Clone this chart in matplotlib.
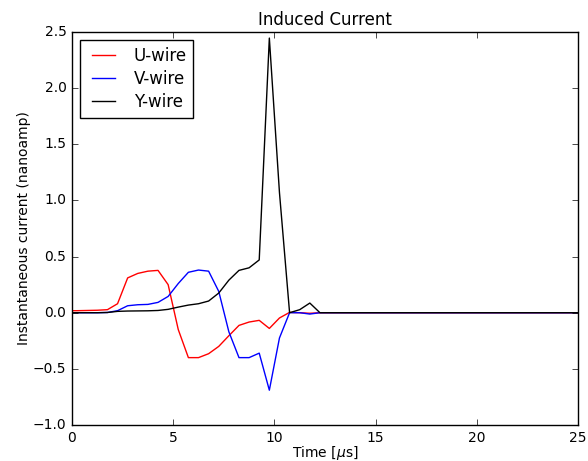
"""Induced current on the three wire planes."""

import matplotlib

matplotlib.use("Agg")
from matplotlib import pyplot as plt

# sample times in microseconds (signal is flat zero after 12.25 us)
times = [0.0, 0.25, 0.75, 1.25, 1.75, 2.25, 2.75, 3.25, 3.75, 4.25, 4.75,
         5.25, 5.75, 6.25, 6.75, 7.25, 7.75, 8.25, 8.75, 9.25, 9.75,
         10.25, 10.75, 11.25, 11.75, 12.25, 25.0]

u_wire = [0.018, 0.018, 0.02, 0.022, 0.027, 0.08, 0.31, 0.35, 0.37, 0.377, 0.25,
          -0.15, -0.40, -0.40, -0.365, -0.30, -0.205, -0.113, -0.083, -0.068, -0.14,
          -0.047, 0.003, 0.0, -0.005, 0.0, 0.0]

v_wire = [0.0, 0.0, 0.0, 0.0, 0.002, 0.018, 0.062, 0.071, 0.074, 0.092, 0.145,
          0.26, 0.36, 0.38, 0.37, 0.19, -0.17, -0.40, -0.40, -0.36, -0.69,
          -0.225, 0.0, 0.0, -0.012, 0.0, 0.0]

y_wire = [0.0, 0.0, 0.0, 0.0, 0.002, 0.012, 0.015, 0.016, 0.017, 0.02, 0.03,
          0.05, 0.068, 0.08, 0.104, 0.175, 0.29, 0.377, 0.40, 0.47, 2.446,
          1.07, 0.0, 0.027, 0.086, 0.0, 0.0]

plt.style.use("classic")
plt.rcParams["mathtext.fontset"] = "dejavusans"
plt.rcParams["font.size"] = 10

figure = plt.figure(figsize=(5.88, 4.61), dpi=100, facecolor="white")
axis = figure.add_axes([72 / 588, 1 - 425 / 461, 506 / 588, 393 / 461])
axis.plot(times, u_wire, color="r", linewidth=1.0, label="U-wire")
axis.plot(times, v_wire, color="b", linewidth=1.0, label="V-wire")
axis.plot(times, y_wire, color="k", linewidth=1.0, label="Y-wire")
axis.set_xlim(0, 25)
axis.set_ylim(-1.0, 2.5)
axis.set_title("Induced Current", fontsize=12)
axis.set_xlabel(r"Time [$\mu$s]", labelpad=-0.5)
axis.set_ylabel("Instantaneous current (nanoamp)", labelpad=1.5)
axis.legend(loc="upper left", fontsize=12, labelspacing=0.3)
figure.savefig("out.png", dpi=100, facecolor="white")
plt.close(figure)
